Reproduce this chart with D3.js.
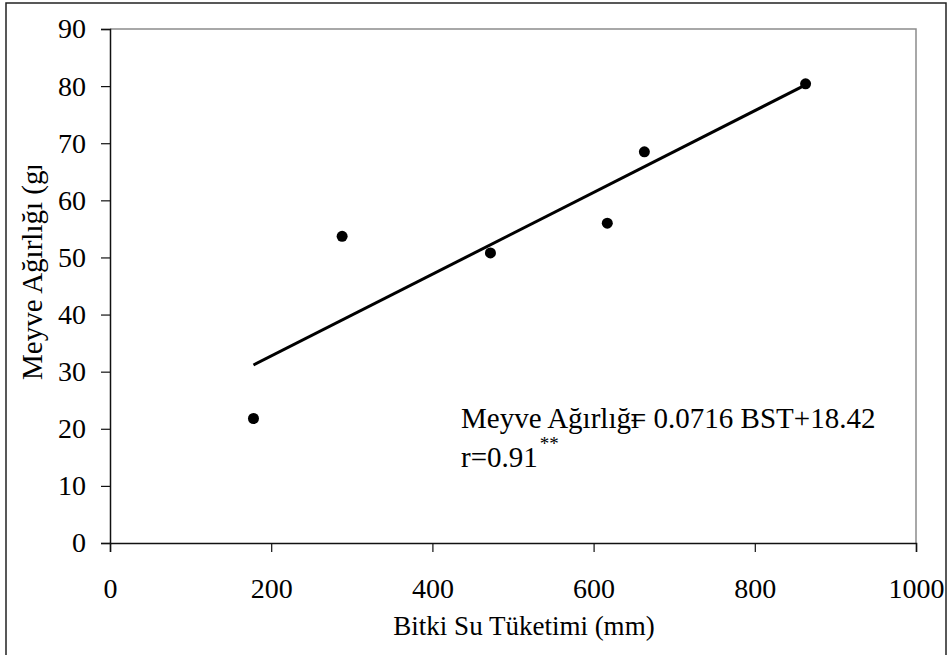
<!DOCTYPE html>
<html>
<head>
<meta charset="utf-8">
<script src="https://cdn.jsdelivr.net/npm/d3@7"></script>
<style>
  body { margin: 0; background: #fff; }
  svg text { font-family: "Liberation Serif", "Times New Roman", serif; fill: #000; }
</style>
</head>
<body>
<div id="chart"></div>
<script>
// water use (mm) vs fruit weight (g)
const bst = [178, 288, 472, 617, 663, 863]
const weight = [21.8, 53.7, 50.8, 56.0, 68.5, 80.4]
const xTicks = [0, 200, 400, 600, 800, 1000]
const yTicks = [0, 10, 20, 30, 40, 50, 60, 70, 80, 90]
// fitted line from the equation on the chart
const slope = 0.0716
const intercept = 18.42

const W = 950, H = 655
const margin = {top: 29, right: 34, bottom: 112, left: 110}
const width = W - margin.left - margin.right,
      height = H - margin.top - margin.bottom

const svg = d3.select("#chart").append("svg")
    .attr("width", W)
    .attr("height", H)

// outer frame
svg.append("rect")
    .attr("x", 6).attr("y", 3)
    .attr("width", 940).attr("height", 660)
    .attr("fill", "none")
    .attr("stroke", "#222")
    .attr("stroke-width", 1.5)

const g = svg.append("g")
    .attr("transform", `translate(${margin.left}, ${margin.top})`)

const x = d3.scaleLinear().domain([0, 1000]).range([0, width])
const y = d3.scaleLinear().domain([0, 90]).range([height, 0])

// grey top/right border of plot area
g.append("path")
    .attr("d", `M0,0H${width}V${height}`)
    .attr("fill", "none")
    .attr("stroke", "#8c8c8c")
    .attr("stroke-width", 1.5)

// axes
const xAxis = g.append("g")
    .attr("transform", `translate(0, ${height})`)
    .call(d3.axisBottom(x).tickValues(xTicks).tickSize(9).tickPadding(26).tickFormat(d3.format("d")))
const yAxis = g.append("g")
    .call(d3.axisLeft(y).tickValues(yTicks).tickSize(9).tickPadding(15).tickFormat(d3.format("d")))

;[xAxis, yAxis].forEach(a => {
  a.select(".domain").attr("stroke", "#111").attr("stroke-width", 1.5)
  a.selectAll(".tick line").attr("stroke", "#111").attr("stroke-width", 1.2)
  a.selectAll(".tick text")
    .style("font-family", '"Liberation Serif", serif')
    .style("font-size", "28px")
    .attr("fill", "#000")
})
xAxis.selectAll(".tick text").attr("dy", "0.71em")

// regression line
const ext = d3.extent(bst)
g.append("line")
    .attr("x1", x(ext[0])).attr("y1", y(slope * ext[0] + intercept))
    .attr("x2", x(ext[1])).attr("y2", y(slope * ext[1] + intercept))
    .attr("stroke", "#000")
    .attr("stroke-width", 3)

// points
g.selectAll("circle.pt")
    .data(bst.map((d, i) => ({x: d, y: weight[i]})))
    .join("circle")
    .attr("class", "pt")
    .attr("cx", d => x(d.x))
    .attr("cy", d => y(d.y))
    .attr("r", 5.5)
    .attr("fill", "#000")

// equation
const eq = svg.append("text")
    .attr("x", 461).attr("y", 428)
    .style("font-size", "29px")
eq.append("tspan").text("Meyve Ağırlığı")
eq.append("tspan").attr("dx", -9).text("= 0.0716 BST+18.42")

const r = svg.append("text")
    .attr("x", 461).attr("y", 467)
    .style("font-size", "29px")
r.append("tspan").text("r=0.91")
r.append("tspan").attr("dy", -17).attr("dx", 2).style("font-size", "19px").text("**")

// axis titles
svg.append("text")
    .attr("x", 524).attr("y", 635)
    .attr("text-anchor", "middle")
    .style("font-size", "27px")
    .text("Bitki Su Tüketimi (mm)")

// y title is cut off at the top in the original
svg.append("clipPath").attr("id", "ytclip")
  .append("rect").attr("x", 0).attr("y", 166).attr("width", 60).attr("height", 400)

svg.append("g").attr("clip-path", "url(#ytclip)")
  .append("text")
    .attr("transform", "translate(42, 380) rotate(-90)")
    .style("font-size", "29px")
    .text("Meyve Ağırlığı (gr)")
</script>
</body>
</html>
